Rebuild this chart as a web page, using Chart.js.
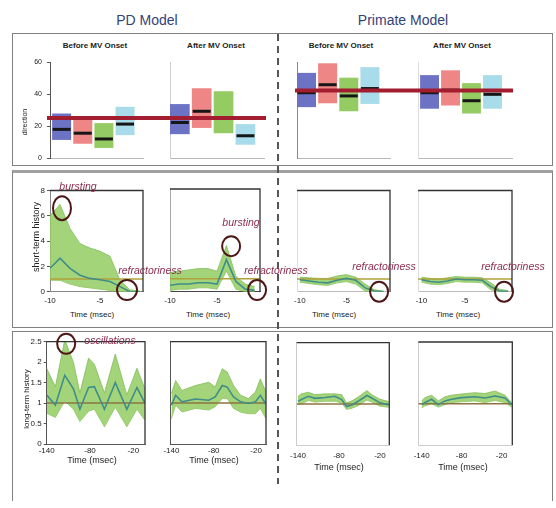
<!DOCTYPE html>
<html><head><meta charset="utf-8">
<script src="https://cdn.jsdelivr.net/npm/chart.js@4/dist/chart.umd.min.js"></script>
<style>
html,body{margin:0;padding:0;background:#fff;}
#stage{position:relative;width:556px;height:508px;overflow:hidden;font-family:Arial,"Liberation Sans",sans-serif;}
canvas{position:absolute;}
.box{position:absolute;box-sizing:border-box;}
.t{position:absolute;white-space:nowrap;transform:translate(-50%,-50%);line-height:1;}
.rot{transform:translate(-50%,-50%) rotate(-90deg);}
.ann{font-style:italic;color:#8c2d50;font-size:10.5px;}
</style></head><body>
<div id="stage">
  <div class="box" style="left:12px;top:33px;width:541px;height:133px;border:1.5px solid #808080;"></div>
  <div class="box" style="left:12px;top:170px;width:541px;height:158px;border:1.5px solid #808080;border-top:3px solid #a0a0a0;"></div>
  <div class="box" style="left:12px;top:331px;width:541px;height:170px;border:1.5px solid #808080;border-bottom:none;"></div>
  <div class="box" style="left:277px;top:34px;width:2px;height:450px;background:repeating-linear-gradient(to bottom,#555 0 7px,transparent 7px 12px);"></div>
</div>
<script>
// ---------- DATA ----------
const barCategories = ['blue', 'red', 'green', 'cyan'];
const barPositions = [1, 2, 3, 4];
// PD model, direction boxes
const pdBeforeLow  = [11.3, 8.9, 6.3, 14.3];
const pdBeforeHigh = [27.8, 24.8, 21.8, 32.0];
const pdBeforeMed  = [17.9, 15.5, 11.9, 21.2];
const pdAfterLow   = [14.9, 18.8, 15.5, 8.3];
const pdAfterHigh  = [33.7, 43.6, 41.7, 21.2];
const pdAfterMed   = [22.2, 29.2, 25.3, 13.9];
const pdDirRef = 25;
// Primate model, direction boxes
const prBeforeLow  = [31.8, 34.2, 29.2, 33.8];
const prBeforeHigh = [53.2, 59.2, 50.2, 56.8];
const prBeforeMed  = [40.8, 45.8, 38.8, 43.4];
const prAfterLow   = [30.8, 32.8, 27.8, 30.8];
const prAfterHigh  = [51.8, 54.8, 46.8, 51.8];
const prAfterMed   = [40.8, 42.4, 35.8, 39.8];
const prDirRef = 42.2;
const dirTicks = [0, 20, 40, 60];

// Short-term history
const stTimeA = [-10, -9, -8, -7, -6, -5, -4, -3, -2, -1];
const stTimeB = [-10, -9, -8, -7, -6, -5, -4, -3, -2, -1, 0];
const pdStBeforeMean = [1.85, 2.65, 1.85, 1.3, 1.05, 0.95, 0.8, 0.4, 0.0, 0.0];
const pdStBeforeHi   = [6.0, 6.9, 5.0, 3.8, 3.45, 3.2, 2.8, 0.9, 0.15, 0.05];
const pdStBeforeLo   = [0.9, 0.9, 0.6, 0.4, 0.3, 0.2, 0.1, 0.0, 0.0, 0.0];
const pdStAfterMean  = [0.5, 0.6, 0.6, 0.7, 0.7, 0.6, 2.5, 0.8, 0.2, 0.1];
const pdStAfterHi    = [1.5, 1.6, 1.7, 1.8, 1.8, 1.6, 3.6, 1.2, 0.6, 0.4];
const pdStAfterLo    = [0.1, 0.2, 0.2, 0.3, 0.3, 0.2, 1.6, 0.2, 0.0, 0.0];
const prStBeforeMean = [0.95, 0.85, 0.75, 0.7, 0.9, 1.05, 0.9, 0.3, 0.05, 0.0];
const prStBeforeHi   = [1.15, 1.1, 1.05, 1.05, 1.25, 1.35, 1.15, 0.6, 0.15, 0.05];
const prStBeforeLo   = [0.75, 0.65, 0.55, 0.5, 0.7, 0.8, 0.6, 0.05, 0.0, 0.0];
const prStAfterMean  = [0.95, 0.8, 0.75, 0.85, 1.0, 0.95, 0.95, 0.9, 0.4, 0.05, 0.02];
const prStAfterHi    = [1.15, 1.05, 1.0, 1.1, 1.2, 1.15, 1.15, 1.1, 0.7, 0.2, 0.08];
const prStAfterLo    = [0.75, 0.6, 0.55, 0.65, 0.8, 0.75, 0.75, 0.7, 0.15, 0.0, 0.0];
const stRef = 1;
const stYTicks = [0, 2, 4, 6, 8];
const stXTicks = [-10, -5];

// Long-term history
const pdLtBeforeT    = [-140, -128, -115, -103, -94, -82, -74, -60, -45, -29, -15, -4];
const pdLtBeforeMean = [1.2, 0.95, 1.68, 1.35, 0.85, 1.38, 1.4, 0.85, 1.5, 0.85, 1.38, 1.0];
const pdLtBeforeHi   = [1.85, 1.4, 2.55, 2.0, 1.25, 2.1, 1.95, 1.25, 2.2, 1.2, 1.85, 1.35];
const pdLtBeforeLo   = [0.75, 0.65, 1.05, 0.85, 0.55, 0.8, 0.85, 0.42, 0.9, 0.42, 0.85, 0.58];
const pdLtAfterT     = [-140, -134, -125, -106, -87, -78, -68, -61, -52, -42, -31, -21, -14, -6];
const pdLtAfterMean  = [0.95, 1.19, 1.03, 1.1, 1.07, 1.15, 1.43, 1.39, 1.15, 1.03, 0.99, 1.03, 1.19, 0.97];
const pdLtAfterHi    = [1.23, 1.55, 1.31, 1.43, 1.51, 1.39, 1.84, 1.76, 1.43, 1.19, 1.11, 1.27, 1.59, 1.27];
const pdLtAfterLo    = [0.62, 0.95, 0.78, 0.87, 0.83, 0.91, 1.11, 1.11, 0.87, 0.78, 0.74, 0.74, 0.87, 0.62];
const prLtBeforeT    = [-140, -135, -125, -115, -100, -86, -76, -69, -61, -52, -39, -32, -20, -7];
const prLtBeforeMean = [1.07, 1.11, 1.19, 1.14, 1.16, 1.19, 1.11, 0.94, 0.98, 1.07, 1.21, 1.15, 1.03, 0.98];
const prLtBeforeHi   = [1.19, 1.25, 1.29, 1.23, 1.25, 1.25, 1.23, 1.03, 1.08, 1.17, 1.33, 1.23, 1.12, 1.06];
const prLtBeforeLo   = [0.99, 1.0, 1.09, 1.05, 1.07, 1.07, 1.03, 0.87, 0.9, 0.96, 1.1, 1.05, 0.95, 0.92];
const prLtAfterT     = [-140, -135, -125, -115, -105, -95, -80, -60, -45, -30, -15, -5];
const prLtAfterMean  = [0.98, 1.03, 1.11, 0.98, 1.07, 1.11, 1.15, 1.17, 1.14, 1.19, 1.14, 0.98];
const prLtAfterHi    = [1.07, 1.15, 1.21, 1.07, 1.17, 1.21, 1.24, 1.27, 1.25, 1.31, 1.21, 1.03];
const prLtAfterLo    = [0.9, 0.95, 1.0, 0.92, 0.98, 1.03, 1.05, 1.07, 1.03, 1.08, 1.03, 0.92];
const ltRef = 1;
const ltYTicks = [0, 0.5, 1, 1.5, 2, 2.5];
const ltXTicks = [-140, -80, -20];

// ---------- STYLE ----------
const FONT = 'Arial, "Liberation Sans", sans-serif';
const BAR_COLORS = ['#6c72c4', '#ee8686', '#95cb63', '#a8dcea'];
const MED_COLOR = '#161616';
const DIR_REF_COLOR = '#a11d2f';
const BAND_C = 'rgba(148,204,98,0.85)';
const BAND_EDGE = 'rgba(120,185,80,0.9)';
const MEAN_C = '#3f8e8a';
const ST_REF_C = '#b0a23a';
const LT_REF_C = '#8e7440';
const CIRCLE_C = '#4d1717';
const stage = document.getElementById('stage');

function makePanel(p) {
  const c = document.createElement('canvas');
  c.width = p.cw; c.height = p.ch;
  c.style.left = p.cx + 'px'; c.style.top = p.cy + 'px';
  c.style.width = p.cw + 'px'; c.style.height = p.ch + 'px';
  stage.appendChild(c);
  const yW = p.L - p.cx, xH = p.cy + p.ch - p.B;
  const padTop = p.T - p.cy, padRight = p.cx + p.cw - p.R;
  const a = p.annot || {};
  const annot = {
    id: 'annot',
    afterDatasetsDraw(chart) {
      const ctx = chart.ctx, ca = chart.chartArea, xs = chart.scales.x, ys = chart.scales.y;
      ctx.save();
      if (a.frame) {
        ctx.strokeStyle = a.frame.color; ctx.lineWidth = a.frame.width;
        ctx.beginPath(); ctx.moveTo(ca.left, ca.top); ctx.lineTo(ca.right, ca.top);
        ctx.lineTo(ca.right, ca.bottom); ctx.stroke();
      }
      if (a.ref) {
        const y = ys.getPixelForValue(a.ref.value);
        const x0 = a.ref.fromCanvas ? 0 : ca.left - (a.ref.extL || 0);
        const x1 = a.ref.toCanvas ? chart.width : ca.right + (a.ref.extR || 0);
        ctx.strokeStyle = a.ref.color; ctx.lineWidth = a.ref.width;
        ctx.beginPath(); ctx.moveTo(x0, y); ctx.lineTo(x1, y); ctx.stroke();
      }
      (a.circles || []).forEach(k => {
        ctx.strokeStyle = CIRCLE_C; ctx.lineWidth = 2;
        ctx.beginPath();
        ctx.ellipse(xs.getPixelForValue(k.x), ys.getPixelForValue(k.y), k.rx, k.ry, 0, 0, Math.PI * 2);
        ctx.stroke();
      });
      ctx.restore();
    }
  };
  new Chart(c, {
    type: p.type,
    data: { datasets: p.datasets },
    options: {
      responsive: false, maintainAspectRatio: false, animation: false, devicePixelRatio: 1,
      layout: { padding: { left: 0, top: padTop, right: padRight, bottom: 0 } },
      plugins: { legend: { display: false }, tooltip: { enabled: false } },
      scales: {
        x: {
          type: 'linear', min: p.xMin, max: p.xMax, offset: false,
          afterFit: s => { s.height = xH; },
          afterBuildTicks: s => { s.ticks = (p.xTicks || []).map(v => ({ value: v })); },
          grid: { display: false, drawTicks: false, tickLength: 0 },
          border: { display: true, color: p.xBorder || '#999', width: 1 },
          ticks: { display: !!p.xLabels, padding: p.xPad || 3, font: { family: FONT, size: p.fs || 8 }, color: '#222', maxRotation: 0, autoSkip: false, callback: v => String(v) }
        },
        y: {
          type: 'linear', min: p.yMin, max: p.yMax,
          afterFit: s => { s.width = yW; },
          afterBuildTicks: s => { s.ticks = (p.yTicks || []).map(v => ({ value: v })); },
          grid: { display: !!p.yTickLen, drawOnChartArea: false, drawTicks: !!p.yTickLen, tickLength: p.yTickLen || 0, color: '#555' },
          border: { display: true, color: p.yBorder || '#999', width: 1 },
          ticks: { display: !!p.yLabels, padding: p.yPad || 3, font: { family: FONT, size: p.fs || 8 }, color: '#222', callback: v => String(v) }
        }
      }
    },
    plugins: [annot]
  });
}

function boxSets(low, high, med) {
  return [
    { type: 'line', data: barPositions.map((x, i) => ({ x, y: med[i] })), showLine: false,
      pointStyle: 'line', pointRadius: 9, pointBorderWidth: 3, pointBorderColor: MED_COLOR,
      borderColor: MED_COLOR, order: 0 },
    { type: 'bar', data: barPositions.map((x, i) => ({ x, y: [low[i], high[i]] })),
      backgroundColor: BAR_COLORS, borderWidth: 0, barPercentage: 0.9, categoryPercentage: 1, order: 1 }
  ];
}
function bandSets(t, mean, hi, lo, refVal, xMin, xMax, refColor) {
  const pts = arr => t.map((x, i) => ({ x, y: arr[i] }));
  return [
    { data: pts(mean), borderColor: MEAN_C, borderWidth: 1.6, pointRadius: 0, fill: false, tension: 0 },
    { data: [{ x: xMin, y: refVal }, { x: xMax, y: refVal }], borderColor: refColor, borderWidth: 1.5, pointRadius: 0, fill: false },
    { data: pts(hi), borderColor: BAND_EDGE, borderWidth: 0.8, pointRadius: 0, fill: '+1', backgroundColor: BAND_C, tension: 0 },
    { data: pts(lo), borderColor: BAND_EDGE, borderWidth: 0.8, pointRadius: 0, fill: false, tension: 0 }
  ];
}

// ---------- ROW 1: direction ----------
makePanel({ type: 'bar', cx: 14, cy: 50, cw: 143, ch: 120, L: 50, T: 59.3, R: 143, B: 160,
  xMin: 0.45, xMax: 4.85, yMin: 0, yMax: 60, yTicks: dirTicks, yLabels: true, yTickLen: 3, yPad: 5, fs: 7,
  yBorder: '#555', xBorder: '#b8b8b8',
  datasets: boxSets(pdBeforeLow, pdBeforeHigh, pdBeforeMed),
  annot: { ref: { value: pdDirRef, color: DIR_REF_COLOR, width: 4, extL: 3, toCanvas: true } } });
makePanel({ type: 'bar', cx: 157, cy: 50, cw: 119, ch: 120, L: 170, T: 59.3, R: 265, B: 160,
  xMin: 0.55, xMax: 4.85, yMin: 0, yMax: 60, yTicks: dirTicks, yBorder: '#cfcfcf', xBorder: '#b8b8b8',
  datasets: boxSets(pdAfterLow, pdAfterHigh, pdAfterMed),
  annot: { ref: { value: pdDirRef, color: DIR_REF_COLOR, width: 4, fromCanvas: true, extR: 2 } } });
makePanel({ type: 'bar', cx: 280, cy: 50, cw: 124, ch: 120, L: 297, T: 58.3, R: 390, B: 158.3,
  xMin: 0.55, xMax: 4.95, yMin: 0, yMax: 60, yTicks: dirTicks, yBorder: '#888', xBorder: '#b8b8b8',
  datasets: boxSets(prBeforeLow, prBeforeHigh, prBeforeMed),
  annot: { ref: { value: prDirRef, color: DIR_REF_COLOR, width: 4, extL: 2, toCanvas: true } } });
makePanel({ type: 'bar', cx: 404, cy: 50, cw: 126, ch: 120, L: 418, T: 58.3, R: 512, B: 158.3,
  xMin: 0.45, xMax: 4.93, yMin: 0, yMax: 60, yTicks: dirTicks, yBorder: '#dddddd', xBorder: '#b8b8b8',
  datasets: boxSets(prAfterLow, prAfterHigh, prAfterMed),
  annot: { ref: { value: prDirRef, color: DIR_REF_COLOR, width: 4, fromCanvas: true, extR: 1 } } });

// ---------- ROW 2: short-term history ----------
const FRAME = { color: '#333', width: 1.3 };
makePanel({ type: 'line', cx: 14, cy: 182, cw: 146, ch: 128, L: 50, T: 190.5, R: 143, B: 291.7,
  xMin: -10, xMax: -0.7, yMin: 0, yMax: 8, xTicks: stXTicks, yTicks: stYTicks, xLabels: true, yLabels: true,
  yTickLen: 3, yPad: 2, xPad: 4, yBorder: '#888', xBorder: '#888',
  datasets: bandSets(stTimeA, pdStBeforeMean, pdStBeforeHi, pdStBeforeLo, stRef, -10, -0.7, ST_REF_C),
  annot: { frame: FRAME, circles: [{ x: -8.8, y: 6.6, rx: 9, ry: 12 }, { x: -2.3, y: 0.13, rx: 10, ry: 10 }] } });
makePanel({ type: 'line', cx: 160, cy: 182, cw: 115, ch: 128, L: 170, T: 189, R: 260, B: 291.7,
  xMin: -10, xMax: -0.43, yMin: 0, yMax: 8, xTicks: stXTicks, yTicks: stYTicks, xLabels: true, xPad: 4,
  yBorder: '#aaa', xBorder: '#444',
  datasets: bandSets(stTimeA, pdStAfterMean, pdStAfterHi, pdStAfterLo, stRef, -10, -0.43, ST_REF_C),
  annot: { frame: FRAME, circles: [{ x: -3.5, y: 3.55, rx: 9, ry: 10 }, { x: -0.74, y: 0.13, rx: 9, ry: 10 }] } });
makePanel({ type: 'line', cx: 282, cy: 182, cw: 122, ch: 128, L: 297, T: 190.5, R: 390, B: 291.7,
  xMin: -10.3, xMax: -0.33, yMin: 0, yMax: 8, xTicks: stXTicks, yTicks: stYTicks, xLabels: true, xPad: 4,
  yBorder: '#ddd', xBorder: '#bbb',
  datasets: bandSets(stTimeA, prStBeforeMean, prStBeforeHi, prStBeforeLo, stRef, -10.3, -0.33, ST_REF_C),
  annot: { frame: FRAME, circles: [{ x: -1.5, y: 0, rx: 9, ry: 10 }] } });
makePanel({ type: 'line', cx: 404, cy: 182, cw: 130, ch: 128, L: 418, T: 190.5, R: 512, B: 291.7,
  xMin: -10.4, xMax: 0.44, yMin: 0, yMax: 8, xTicks: stXTicks, yTicks: stYTicks, xLabels: true, xPad: 4,
  yBorder: '#ddd', xBorder: '#bbb',
  datasets: bandSets(stTimeB, prStAfterMean, prStAfterHi, prStAfterLo, stRef, -10.4, 0.44, ST_REF_C),
  annot: { frame: FRAME, circles: [{ x: -0.48, y: 0, rx: 9, ry: 10 }] } });

// ---------- ROW 3: long-term history ----------
makePanel({ type: 'line', cx: 14, cy: 330, cw: 146, ch: 132, L: 46.7, T: 341.7, R: 145, B: 444,
  xMin: -140, xMax: -3.85, yMin: 0, yMax: 2.5, xTicks: ltXTicks, yTicks: ltYTicks, xLabels: true, yLabels: true,
  yTickLen: 3, yPad: 2, xPad: 2, yBorder: '#555', xBorder: '#555',
  datasets: bandSets(pdLtBeforeT, pdLtBeforeMean, pdLtBeforeHi, pdLtBeforeLo, ltRef, -140, -3.85, LT_REF_C),
  annot: { frame: FRAME, circles: [{ x: -113, y: 2.45, rx: 9, ry: 10 }] } });
makePanel({ type: 'line', cx: 160, cy: 330, cw: 115, ch: 132, L: 170, T: 341.7, R: 266, B: 444,
  xMin: -142, xMax: -6, yMin: 0, yMax: 2.5, xTicks: ltXTicks, yTicks: ltYTicks, xLabels: true, xPad: 2,
  yBorder: '#555', xBorder: '#555',
  datasets: bandSets(pdLtAfterT, pdLtAfterMean, pdLtAfterHi, pdLtAfterLo, ltRef, -142, -6, LT_REF_C),
  annot: { frame: FRAME } });
makePanel({ type: 'line', cx: 282, cy: 330, cw: 122, ch: 132, L: 296.7, T: 342.7, R: 389.3, B: 445,
  xMin: -141.9, xMax: -6.3, yMin: 0, yMax: 2.5, xTicks: ltXTicks, yTicks: ltYTicks, xLabels: true, xPad: 6,
  yBorder: '#ccc', xBorder: '#ccc',
  datasets: bandSets(prLtBeforeT, prLtBeforeMean, prLtBeforeHi, prLtBeforeLo, ltRef, -141.9, -6.3, LT_REF_C),
  annot: { frame: FRAME } });
makePanel({ type: 'line', cx: 404, cy: 330, cw: 130, ch: 132, L: 418.3, T: 342, R: 512.3, B: 445,
  xMin: -145, xMax: -4, yMin: 0, yMax: 2.5, xTicks: ltXTicks, yTicks: ltYTicks, xLabels: true, xPad: 6,
  yBorder: '#ccc', xBorder: '#ccc',
  datasets: bandSets(prLtAfterT, prLtAfterMean, prLtAfterHi, prLtAfterLo, ltRef, -145, -4, LT_REF_C),
  annot: { frame: FRAME } });

// ---------- TEXT ----------
function txt(s, x, y, style, cls) {
  const d = document.createElement('div');
  d.className = 't' + (cls ? ' ' + cls : '');
  d.textContent = s;
  d.style.left = x + 'px'; d.style.top = y + 'px';
  d.style.cssText += style || '';
  stage.appendChild(d);
}
txt('PD Model', 147, 20, 'font-size:14px;color:#34427a;');
txt('Primate Model', 403, 20, 'font-size:14px;color:#34427a;');
const sub = 'font-size:8px;font-weight:bold;color:#222;';
txt('Before MV Onset', 95, 46, sub);
txt('After MV Onset', 216, 46, sub);
txt('Before MV Onset', 341, 46, sub);
txt('After MV Onset', 462, 46, sub);
txt('direction', 24, 122, 'font-size:7px;color:#222;', 'rot');
txt('short-term history', 36, 237, 'font-size:9px;color:#222;', 'rot');
txt('long-term history', 27, 399, 'font-size:8px;color:#222;', 'rot');
const tm2 = 'font-size:8px;color:#222;';
txt('Time (msec)', 92, 315, tm2);
txt('Time (msec)', 208, 315, tm2);
txt('Time (msec)', 334, 315, tm2);
txt('Time (msec)', 458, 315, tm2);
const tm3 = 'font-size:9px;color:#222;';
txt('Time (msec)', 92, 460, tm3);
txt('Time (msec)', 214, 460, tm3);
txt('Time (msec)', 339, 467, tm3);
txt('Time (msec)', 463, 467, tm3);
txt('bursting', 78, 186, '', 'ann');
txt('refractoriness', 150, 270, '', 'ann');
txt('bursting', 241, 222, '', 'ann');
txt('refractoriness', 276, 270, '', 'ann');
txt('refractoriness', 384, 266, '', 'ann');
txt('refractoriness', 513, 266, '', 'ann');
txt('oscillations', 110, 340, '', 'ann');
</script>
</body></html>
